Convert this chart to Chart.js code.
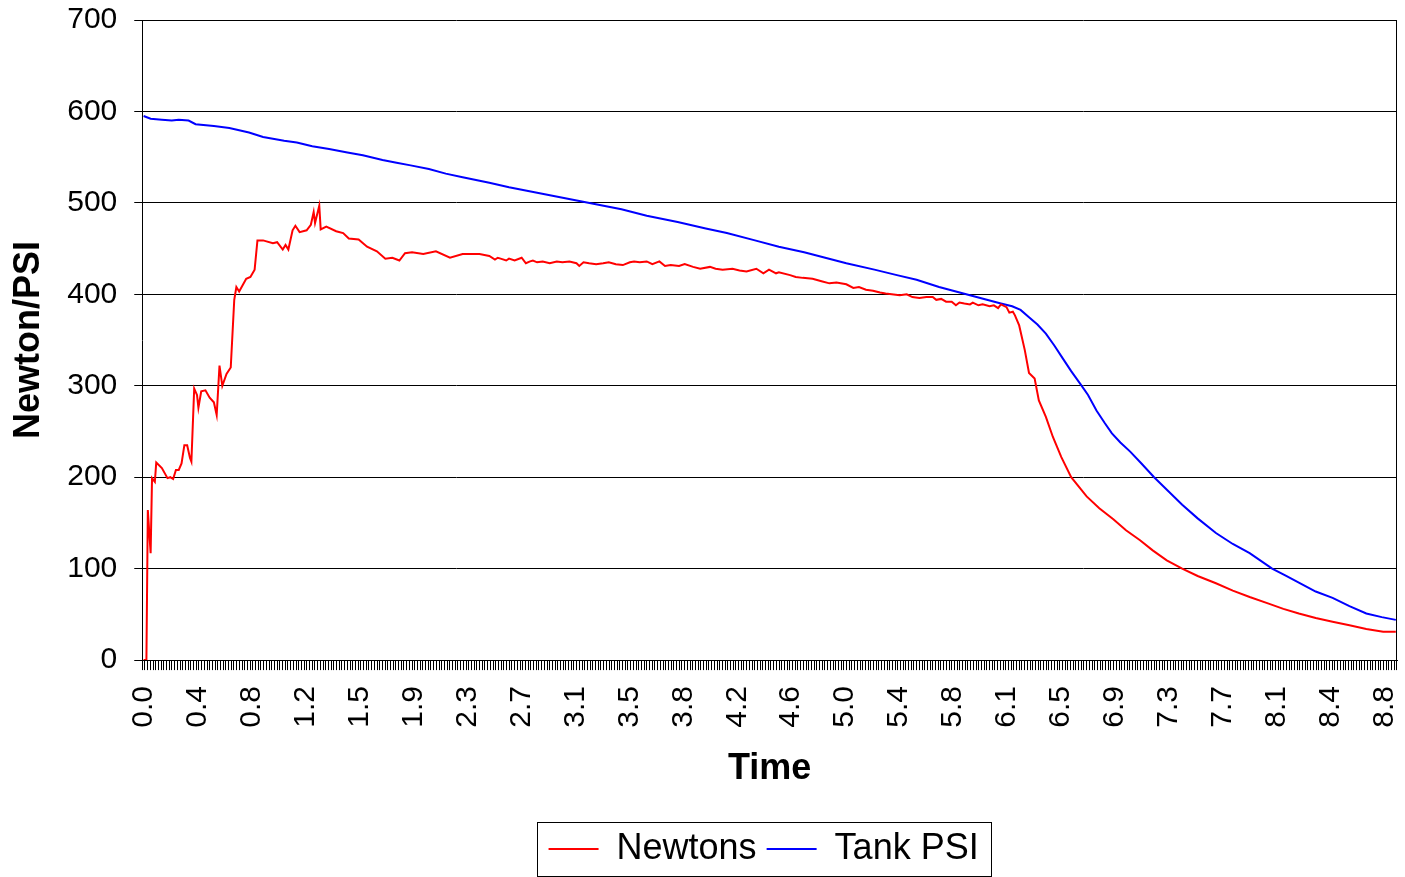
<!DOCTYPE html>
<html>
<head>
<meta charset="utf-8">
<script src="https://cdn.jsdelivr.net/npm/chart.js@4.4.0/dist/chart.umd.min.js"></script>
<style>
  body { margin: 0; background: #fff; }
  #wrap { width: 1405px; height: 877px; }
</style>
</head>
<body>
<div id="wrap"><canvas id="thrustChart" width="1405" height="877"></canvas></div>
<script>
// logger sample spacing (s) and how many samples sit on the time axis
var DT = 0.0192;
var SAMPLES = 465;

// every 20th sample gets a label
var tickLabels = ['0.0', '0.4', '0.8', '1.2', '1.5', '1.9', '2.3', '2.7', '3.1', '3.5', '3.8', '4.2',
                  '4.6', '5.0', '5.4', '5.8', '6.1', '6.5', '6.9', '7.3', '7.7', '8.1', '8.4', '8.8'];

// thrust
var newtonTime = [0.00, 0.02, 0.03, 0.05, 0.06, 0.08, 0.09, 0.13, 0.17, 0.19, 0.21, 0.23, 0.25, 0.27, 0.29, 0.31,
  0.33, 0.34, 0.36, 0.38, 0.39, 0.41, 0.44, 0.47, 0.50, 0.52, 0.54, 0.56, 0.59, 0.62, 0.645, 0.66, 0.68, 0.73, 0.76,
  0.79, 0.81, 0.85, 0.92, 0.95, 0.99, 1.01, 1.03, 1.06, 1.08, 1.11, 1.16, 1.19, 1.21, 1.22, 1.25, 1.26, 1.30, 1.37,
  1.42, 1.46, 1.53, 1.59, 1.66, 1.72, 1.77, 1.82, 1.86, 1.91, 1.99, 2.08, 2.18, 2.27,
  2.39, 2.425, 2.46, 2.50, 2.52, 2.54, 2.58, 2.60, 2.64, 2.69, 2.72, 2.75, 2.77, 2.80, 2.84, 2.89, 2.94, 2.98,
  3.03, 3.08, 3.10, 3.13, 3.17, 3.22, 3.27, 3.31, 3.36, 3.41, 3.46, 3.49, 3.53, 3.58, 3.62, 3.67, 3.71, 3.75,
  3.81, 3.85, 3.91, 3.96, 4.03, 4.07, 4.12, 4.19, 4.24, 4.29, 4.36, 4.41, 4.45, 4.50, 4.52, 4.60, 4.64, 4.69,
  4.76, 4.83, 4.88, 4.93, 5.00, 5.05, 5.09, 5.14, 5.19, 5.24, 5.28, 5.38, 5.43, 5.47, 5.52, 5.57, 5.615, 5.64,
  5.675, 5.71, 5.75, 5.78, 5.805, 5.84, 5.88, 5.90, 5.94, 5.97, 6.02, 6.05, 6.08, 6.10, 6.14, 6.16, 6.185, 6.20,
  6.23, 6.27, 6.30, 6.34, 6.37, 6.42, 6.47, 6.53, 6.60, 6.71, 6.80, 6.90, 6.99, 7.09, 7.18, 7.28, 7.39, 7.50,
  7.63, 7.75, 7.87, 8.00, 8.11, 8.22, 8.34, 8.46, 8.58, 8.70, 8.82, 8.91];
var newtonVals = [0, 0, 164, 117, 199, 195, 216, 210, 199, 200, 198, 208, 208, 215, 235, 235,
  221, 217, 297, 290, 276, 294, 295, 287, 282, 268, 322, 300, 313, 320, 394, 408, 403, 417, 419,
  427, 459, 459, 456, 457, 449, 454, 449, 470, 475, 468, 470, 476, 490, 478, 497, 471, 474, 469,
  467, 461, 460, 452, 447, 439, 440, 437, 445, 446, 444, 447, 440, 444,
  444, 443, 442, 438, 440, 439, 437, 439, 437, 440, 434, 436, 437, 435, 436, 434, 436, 435,
  436, 434, 431, 435, 434, 433, 434, 435, 433, 432, 435, 436, 435, 436, 433, 436, 431, 432,
  431, 433, 430, 428, 430, 428, 427, 428, 426, 425, 428, 423, 427, 423, 424, 421, 419, 418,
  417, 414, 412, 413, 411, 407, 408, 405, 404, 402, 401, 399, 400, 397, 396, 397, 397, 394,
  395, 392, 392, 388, 391, 390, 389, 391, 388, 389, 387, 388, 385, 389, 386, 380, 381, 377,
  366, 339, 314, 308, 284, 266, 244, 222, 200, 179, 166, 154, 142, 131, 120, 109, 100, 92,
  84, 76, 69, 62, 56, 51, 46, 42, 38, 34, 31, 31];

// tank pressure
var psiTime = [0.00, 0.05, 0.13, 0.20, 0.25, 0.32, 0.37, 0.50, 0.61, 0.75, 0.85, 1.00, 1.09, 1.20, 1.32, 1.45,
  1.56, 1.70, 1.80, 1.90, 2.03, 2.15, 2.27, 2.46, 2.60, 2.80, 3.00, 3.20, 3.40, 3.58, 3.80, 4.00, 4.15, 4.35,
  4.52, 4.70, 4.85, 5.00, 5.20, 5.36, 5.50, 5.66, 5.78, 5.88, 6.00, 6.10, 6.18, 6.24, 6.30, 6.36, 6.42, 6.48,
  6.54, 6.60, 6.67, 6.72, 6.78, 6.84, 6.89, 6.95, 7.02, 7.10, 7.19, 7.29, 7.39, 7.50, 7.63, 7.75, 7.87, 8.03,
  8.13, 8.23, 8.34, 8.46, 8.58, 8.70, 8.81, 8.91];
var psiVals = [595, 592, 591, 590, 591, 590, 586, 584, 582, 577, 572, 568, 566, 562, 559, 555,
  552, 547, 544, 541, 537, 532, 528, 522, 517, 511, 505, 499, 493, 486, 479, 472, 467, 459,
  452, 446, 440, 434, 427, 421, 416, 408, 403, 399, 394, 390, 387, 383, 375, 367, 357, 344,
  330, 316, 301, 290, 273, 259, 248, 238, 228, 215, 200, 185, 170, 155, 139, 127, 117, 100,
  92, 84, 75, 68, 59, 51, 47, 44];

function pairUp(times, vals) {
  return times.map(function (t, i) { return { x: t, y: vals[i] }; });
}

var FONT = '"Liberation Sans", Arial, sans-serif';

// right edge of the plot box, frame round the legend, legend centred under the plot
var boxLines = {
  id: 'boxLines',
  afterLayout: function (chart) {
    var lg = chart.legend, a = chart.chartArea;
    var shift = (a.left + a.right) / 2 - (lg.left + lg.right) / 2 - 6;
    lg.left += shift;
    lg.right += shift;
  },
  afterDraw: function (chart) {
    var ctx = chart.ctx, a = chart.chartArea;
    ctx.save();
    ctx.strokeStyle = '#000';
    ctx.lineWidth = 1;
    var rx = Math.round(a.right) - 0.5;
    ctx.beginPath();
    ctx.moveTo(rx, Math.round(a.top));
    ctx.lineTo(rx, Math.round(a.bottom));
    ctx.stroke();

    var hb = chart.legend.legendHitBoxes;
    if (hb && hb.length) {
      var l = hb[0].left, r = hb[0].left + hb[0].width, t = hb[0].top, b = hb[0].top + hb[0].height;
      hb.forEach(function (h) {
        l = Math.min(l, h.left); r = Math.max(r, h.left + h.width);
        t = Math.min(t, h.top); b = Math.max(b, h.top + h.height);
      });
      ctx.strokeRect(Math.round(l - 12) + 0.5, Math.round(t - 9) + 0.5, Math.round(r - l + 24), Math.round(b - t + 18));
    }
    ctx.restore();
  }
};

new Chart('thrustChart', {
  type: 'line',
  data: {
    datasets: [
      {
        label: 'Newtons',
        data: pairUp(newtonTime, newtonVals),
        borderColor: '#ff0000',
        backgroundColor: '#ff0000',
        borderWidth: 2,
        pointRadius: 0,
        tension: 0,
        fill: false
      },
      {
        label: 'Tank PSI',
        data: pairUp(psiTime, psiVals),
        borderColor: '#0000ff',
        backgroundColor: '#0000ff',
        borderWidth: 2,
        pointRadius: 0,
        tension: 0,
        fill: false
      }
    ]
  },
  options: {
    responsive: false,
    animation: false,
    layout: { padding: { left: 7, right: 8, top: 20, bottom: 0 } },
    plugins: {
      tooltip: { enabled: false },
      legend: {
        position: 'bottom',
        labels: {
          usePointStyle: true,
          pointStyle: 'line',
          pointStyleWidth: 50,
          color: '#000',
          padding: 10,
          font: { family: FONT, size: 36 }
        }
      }
    },
    scales: {
      x: {
        type: 'linear',
        min: -DT / 2,
        max: (SAMPLES - 0.5) * DT,
        afterBuildTicks: function (scale) {
          var ticks = [];
          for (var i = 0; i < SAMPLES; i++) ticks.push({ value: i * DT });
          scale.ticks = ticks;
        },
        afterFit: function (scale) {
          scale.paddingLeft = 0;
          scale.paddingRight = 0;
        },
        grid: { drawOnChartArea: false, offset: true, color: '#000', tickLength: 10 },
        border: { color: '#000' },
        ticks: {
          autoSkip: false,
          maxRotation: 90,
          minRotation: 90,
          padding: 16,
          color: '#000',
          font: { family: FONT, size: 30 },
          callback: function (value, index) {
            return index % 20 === 0 ? tickLabels[index / 20] : '';
          }
        },
        title: {
          display: true,
          text: 'Time',
          color: '#000',
          padding: { top: 4, bottom: 30 },
          font: { family: FONT, size: 36, weight: 'bold' }
        }
      },
      y: {
        min: 0,
        max: 700,
        afterFit: function (scale) {
          scale.paddingTop = 0;
        },
        grid: { color: '#000', tickLength: 8 },
        border: { color: '#000' },
        ticks: {
          stepSize: 100,
          padding: 17,
          color: '#000',
          font: { family: FONT, size: 30 }
        },
        title: {
          display: true,
          text: 'Newton/PSI',
          color: '#000',
          padding: { top: 0, bottom: 0 },
          font: { family: FONT, size: 36, weight: 'bold' }
        }
      }
    }
  },
  plugins: [boxLines]
});
</script>
</body>
</html>
